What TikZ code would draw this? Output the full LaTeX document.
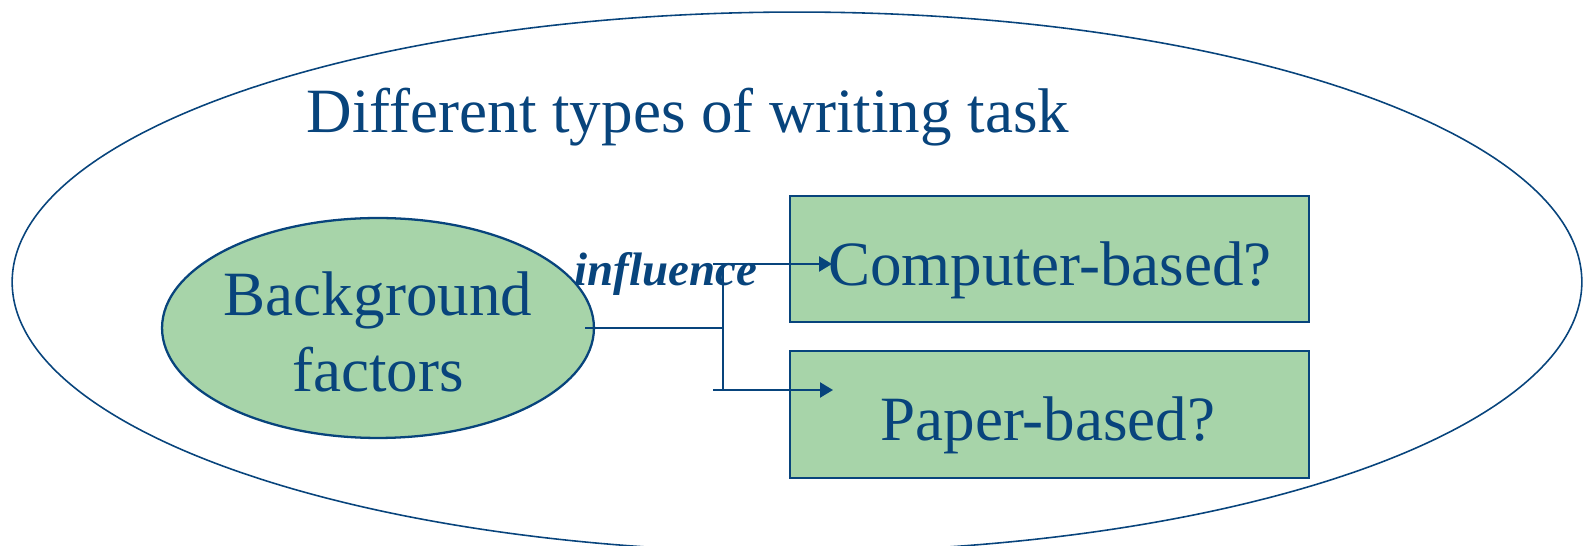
\documentclass[tikz,border=0pt]{standalone}
\usepackage{fontspec}
\setmainfont{Liberation Serif}
\usetikzlibrary{arrows.meta,shapes.geometric}
\definecolor{ink}{RGB}{8,68,124}
\definecolor{leaf}{RGB}{167,212,169}
\tikzset{
  bigtext/.style={text=ink,font=\fontsize{35.9}{45}\selectfont},
  greenbox/.style={draw=ink,line width=1.6pt,fill=leaf,rectangle,inner sep=0pt},
  link/.style={draw=ink,line width=1.3pt},
  tip/.style={-{Triangle[length=0.26cm,width=0.3cm]}}
}
\begin{document}
\begin{tikzpicture}[x=0.02cm,y=-0.02cm]
\useasboundingbox (0,0) rectangle (1583,546);
% outer frame
\node[draw=ink,line width=0.9pt,ellipse,inner sep=0pt,
  minimum width=31.4cm,minimum height=10.8cm] (outer) at (797,282) {};
\node[bigtext,anchor=base] (title) at (688,133) {Different types of writing task};
% background factors
\node[draw=ink,line width=1.3pt,fill=leaf,ellipse,inner sep=0pt,
  minimum width=8.64cm,minimum height=4.4cm] (bg) at (378,328) {};
\node[bigtext,anchor=base] (bgA) at (378,316) {Background};
\node[bigtext,anchor=base] (bgB) at (378,392) {factors};
% the two outcome boxes
\node[greenbox,minimum width=10.38cm,minimum height=2.52cm] (comp) at (1049.5,259) {};
\node[greenbox,minimum width=10.38cm,minimum height=2.54cm] (paper) at (1049.5,414.5) {};
\node[bigtext,anchor=base] (compT) at (1050,286) {Computer-based?};
\node[bigtext,anchor=base] (paperT) at (1048,441) {Paper-based?};
\node[text=ink,font=\fontsize{26.7}{32}\selectfont\bfseries\itshape,anchor=base] (infl) at (666,286) {influence};
% connectors
\coordinate (src) at (585,328);
\coordinate (junc) at (723,328);
\coordinate (vtop) at (723,264);
\coordinate (vbot) at (723,390);
\coordinate (s1) at (713,264);
\coordinate (e1) at (832,264);
\coordinate (s2) at (713,390);
\coordinate (e2) at (833,390);
\draw[link] (src) -- (junc);
\draw[link] (vtop) -- (vbot);
\draw[link,tip] (s1) -- (e1);
\draw[link,tip] (s2) -- (e2);
\end{tikzpicture}
\end{document}
